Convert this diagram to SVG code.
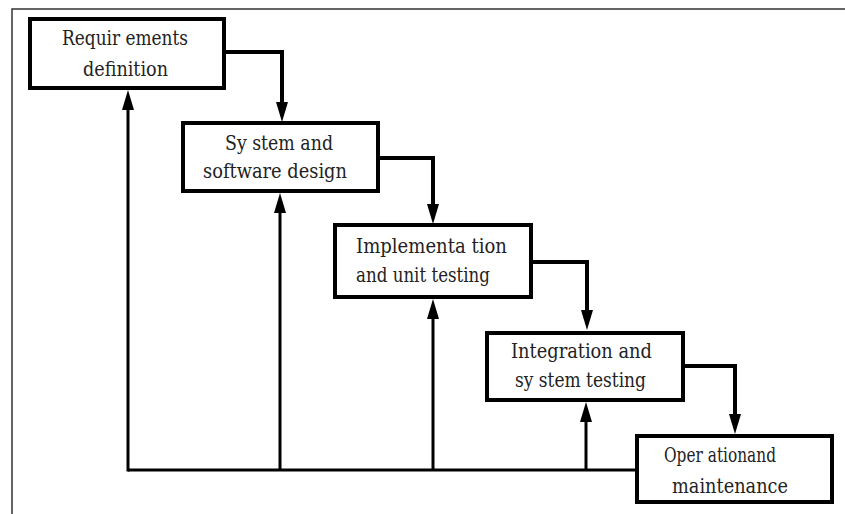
<svg xmlns="http://www.w3.org/2000/svg" width="845" height="514" viewBox="0 0 845 514">
  <style>
    .box { fill: #ffffff; stroke: #000000; stroke-width: 4; }
    .lbl { font-family: 'DejaVu Serif', 'Liberation Serif', serif; font-size: 20px; fill: #222222; }
    .fwd { fill: none; stroke: #000000; stroke-width: 4; }
    .back { fill: none; stroke: #000000; stroke-width: 3; }
    .frame { fill: none; stroke: #333333; stroke-width: 1.5; }
  </style>
  <defs>
    <marker id="ah" markerUnits="userSpaceOnUse" markerWidth="20" markerHeight="12" refX="0" refY="6" orient="auto" overflow="visible">
      <path d="M0,0 L20,6 L0,12 Z" fill="#000000"/>
    </marker>
  </defs>
  <rect width="845" height="514" fill="#ffffff"/>
  <path class="frame" d="M12 514 V9 H845"/>

  <g id="connectors">
    <path class="fwd" d="M224 52 H282 V102" marker-end="url(#ah)"/>
    <path class="fwd" d="M378 158 H433 V204" marker-end="url(#ah)"/>
    <path class="fwd" d="M531 262 H587 V310" marker-end="url(#ah)"/>
    <path class="fwd" d="M683 366 H735 V414" marker-end="url(#ah)"/>
    <path class="back" d="M637 470 H128" stroke-width="4"/>
    <path class="back" d="M128 471.5 V110" marker-end="url(#ah)"/>
    <path class="back" d="M280 470 V213" marker-end="url(#ah)"/>
    <path class="back" d="M433 470 V319" marker-end="url(#ah)"/>
    <path class="back" d="M586 470 V422" marker-end="url(#ah)"/>
  </g>

  <g id="requirements">
    <rect class="box" x="30" y="19" width="194" height="69"/>
    <text class="lbl" x="62" y="45" textLength="126" lengthAdjust="spacingAndGlyphs">Requir ements</text>
    <text class="lbl" x="83" y="76" textLength="85" lengthAdjust="spacingAndGlyphs">definition</text>
  </g>
  <g id="design">
    <rect class="box" x="183" y="123" width="195" height="68"/>
    <text class="lbl" x="225" y="150" textLength="108" lengthAdjust="spacingAndGlyphs">Sy stem and</text>
    <text class="lbl" x="203" y="178" textLength="144" lengthAdjust="spacingAndGlyphs">software design</text>
  </g>
  <g id="implementation">
    <rect class="box" x="335" y="225" width="196" height="72"/>
    <text class="lbl" x="356" y="253" textLength="151" lengthAdjust="spacingAndGlyphs">Implementa tion</text>
    <text class="lbl" x="356" y="282" textLength="134" lengthAdjust="spacingAndGlyphs">and unit testing</text>
  </g>
  <g id="integration">
    <rect class="box" x="487" y="333" width="196" height="67"/>
    <text class="lbl" x="511" y="358" textLength="141" lengthAdjust="spacingAndGlyphs">Integration and</text>
    <text class="lbl" x="515" y="387" textLength="131" lengthAdjust="spacingAndGlyphs">sy stem testing</text>
  </g>
  <g id="operation">
    <rect class="box" x="637" y="436" width="195" height="66"/>
    <text class="lbl" x="664" y="462" textLength="112" lengthAdjust="spacingAndGlyphs">Oper ationand</text>
    <text class="lbl" x="672" y="493" textLength="116" lengthAdjust="spacingAndGlyphs">maintenance</text>
  </g>
</svg>
